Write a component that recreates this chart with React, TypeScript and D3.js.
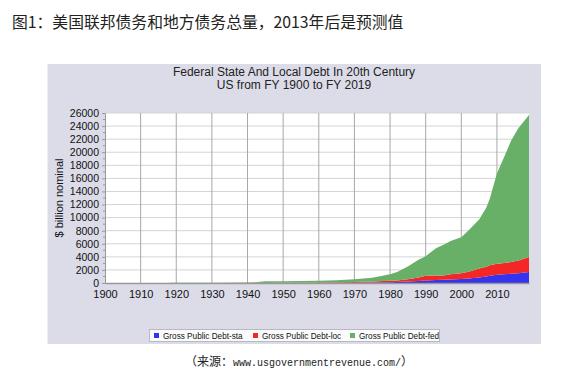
import React, { useRef, useEffect } from 'react';
import * as d3 from 'd3';

// years (billions of dollars, nominal)
const years = [1900, 1910, 1916, 1917, 1919, 1920, 1930, 1940, 1942, 1945, 1950, 1955, 1960, 1965, 1970, 1975, 1980, 1982, 1985, 1988, 1990, 1993, 1995, 1997, 2000, 2002, 2005, 2007, 2008, 2009, 2010, 2011, 2012, 2014, 2016, 2019];
const debtSta = [0.2, 0.4, 0.5, 0.5, 0.6, 0.7, 2.4, 3.6, 3.3, 2.4, 5.3, 11, 18, 27, 42, 72, 122, 147, 220, 300, 400, 460, 500, 540, 600, 680, 850, 1000, 1100, 1180, 1250, 1300, 1350, 1420, 1500, 1680];
const debtLoc = [1.6, 3.5, 4, 4.3, 5, 5.8, 16, 16, 16, 13.7, 18.8, 33, 51, 72, 101, 150, 213, 250, 355, 550, 700, 680, 660, 780, 900, 1050, 1350, 1500, 1600, 1650, 1700, 1700, 1700, 1780, 1950, 2300];
const debtFed = [1.3, 1.1, 1.2, 3, 27, 26, 16, 51, 79, 260, 257, 274, 291, 322, 420, 600, 1000, 1300, 1950, 2700, 3000, 4200, 4700, 5100, 5500, 6300, 7500, 9000, 10200, 12000, 13800, 15000, 16200, 18600, 20200, 21700];

const seriesKeys = ['sta', 'loc', 'fed'];
const seriesNames = ['Gross Public Debt-sta', 'Gross Public Debt-loc', 'Gross Public Debt-fed'];
const seriesColors = ['#3434ee', '#f52626', '#68b068'];

const xTicks = [1900, 1910, 1920, 1930, 1940, 1950, 1960, 1970, 1980, 1990, 2000, 2010];
const yTicks = d3.range(0, 26001, 2000);

const App = () => {
    const svgRef = useRef<SVGSVGElement>(null);

    useEffect(() => {
        const svg = d3.select(svgRef.current);
        svg.selectAll('*').remove();

        const width = 564;
        const height = 372;
        const margin = { top: 113, right: 35, bottom: 89, left: 105 };

        // top caption
        svg.append('text')
            .attr('x', 12).attr('y', 28)
            .attr('font-family', 'Noto Sans CJK SC')
            .attr('font-size', 15.8)
            .attr('fill', '#222')
            .text('图1：美国联邦债务和地方债务总量，2013年后是预测值');

        // chart panel
        svg.append('rect')
            .attr('x', 47.5).attr('y', 64)
            .attr('width', 493.5).attr('height', 280)
            .attr('fill', '#dcdce9');

        const x = d3.scaleLinear()
            .domain([1900, 2019])
            .range([margin.left, width - margin.right]);

        const y = d3.scaleLinear()
            .domain([0, 26000])
            .range([height - margin.bottom, margin.top]);

        // plot background
        svg.append('rect')
            .attr('x', x(1900)).attr('y', y(26000))
            .attr('width', x(2019) - x(1900)).attr('height', y(0) - y(26000))
            .attr('fill', '#fff');

        // grid
        svg.append('g')
            .selectAll('line')
            .data(yTicks.slice(1))
            .join('line')
            .attr('x1', x(1900)).attr('x2', x(2019))
            .attr('y1', d => y(d)).attr('y2', d => y(d))
            .attr('stroke', '#d4d4d4');

        svg.append('g')
            .selectAll('line')
            .data(xTicks.slice(1))
            .join('line')
            .attr('x1', d => x(d)).attr('x2', d => x(d))
            .attr('y1', y(0)).attr('y2', y(26000))
            .attr('stroke', '#a8a8a8');

        // stacked areas
        const table = years.map((yr, i) => ({ year: yr, sta: debtSta[i], loc: debtLoc[i], fed: debtFed[i] }));
        const stacked = d3.stack<any>().keys(seriesKeys)(table);

        const area = d3.area<any>()
            .x(d => x(d.data.year))
            .y0(d => y(d[0]))
            .y1(d => y(d[1]));

        svg.append('g')
            .selectAll('path')
            .data(stacked)
            .join('path')
            .attr('fill', (d, i) => seriesColors[i])
            .attr('d', area);

        // y axis
        const yAxis = svg.append('g')
            .attr('transform', `translate(${margin.left},0)`)
            .call(d3.axisLeft(y).tickValues(yTicks).tickSize(3).tickPadding(3).tickFormat(d3.format('d')));
        yAxis.selectAll('text')
            .attr('font-family', 'Liberation Sans, Arial')
            .attr('font-size', 10.5)
            .attr('fill', '#111');
        yAxis.selectAll('line, path').attr('stroke', '#999');

        svg.append('g')
            .selectAll('line')
            .data(d3.range(1000, 26000, 2000))
            .join('line')
            .attr('x1', margin.left - 2).attr('x2', margin.left)
            .attr('y1', d => y(d)).attr('y2', d => y(d))
            .attr('stroke', '#999');

        // x axis
        const xAxis = svg.append('g')
            .attr('transform', `translate(0,${y(0)})`)
            .call(d3.axisBottom(x).tickValues(xTicks).tickSize(0).tickPadding(7.5).tickFormat(d3.format('d')));
        xAxis.selectAll('text')
            .attr('font-family', 'Liberation Sans, Arial')
            .attr('font-size', 11)
            .attr('fill', '#111');
        xAxis.select('.domain').attr('stroke', '#999').attr('stroke-width', 1.5);

        // y label
        svg.append('text')
            .attr('transform', `translate(63,${(y(0) + y(26000)) / 2}) rotate(-90)`)
            .attr('text-anchor', 'middle')
            .attr('font-family', 'Liberation Sans, Arial')
            .attr('font-size', 11)
            .attr('fill', '#111')
            .text('$ billion nominal');

        // title
        const title = svg.append('g')
            .attr('font-family', 'Liberation Sans, Arial')
            .attr('font-size', 12)
            .attr('fill', '#222')
            .attr('text-anchor', 'middle');
        title.append('text').attr('x', 294).attr('y', 75.5).text('Federal State And Local Debt In 20th Century');
        title.append('text').attr('x', 294).attr('y', 89).text('US from FY 1900 to FY 2019');

        // legend
        svg.append('rect')
            .attr('x', 149.5).attr('y', 329.5)
            .attr('width', 290).attr('height', 12)
            .attr('fill', '#fbfbfb')
            .attr('stroke', '#b8b8c4');

        const legendX = [154, 253, 350];
        const legend = svg.append('g')
            .selectAll('g')
            .data(seriesNames)
            .join('g')
            .attr('transform', (d, i) => `translate(${legendX[i]},335.5)`);
        legend.append('rect')
            .attr('x', 0).attr('y', -2.5)
            .attr('width', 5).attr('height', 5)
            .attr('fill', (d, i) => seriesColors[i]);
        legend.append('text')
            .attr('x', 9).attr('y', 3)
            .attr('font-family', 'Liberation Sans, Arial')
            .attr('font-size', 8.2)
            .attr('fill', '#111')
            .text(d => d);

        // source
        const src = svg.append('text')
            .attr('x', 185).attr('y', 366)
            .attr('fill', '#222');
        src.append('tspan').attr('font-family', 'Noto Sans CJK SC').attr('font-size', 12).text('（来源：');
        src.append('tspan').attr('font-family', 'Liberation Mono').attr('font-size', 10).text('www.usgovernmentrevenue.com/');
        src.append('tspan').attr('font-family', 'Noto Sans CJK SC').attr('font-size', 12).text('）');
    }, []);

    return (
        <svg ref={svgRef} width={564} height={372}
            style={{ position: 'absolute', left: 0, top: 0, background: '#fff' }} />
    );
};

export default App;
